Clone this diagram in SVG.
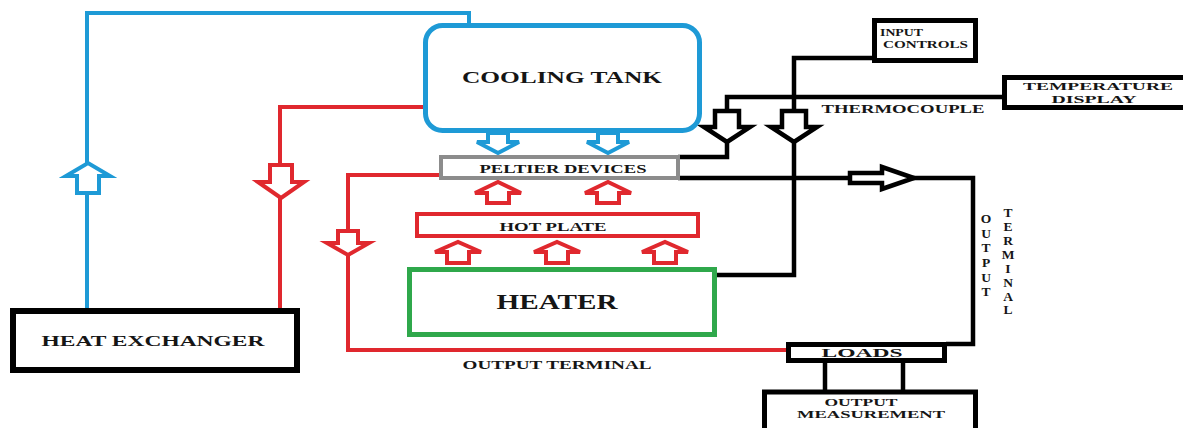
<svg xmlns="http://www.w3.org/2000/svg" width="1183" height="428" viewBox="0 0 1183 428">
<style>
.t{font-family:"Liberation Serif","DejaVu Serif","Times New Roman",serif;font-weight:bold;fill:#151515;text-anchor:middle}
.blk{fill:none;stroke:#000;stroke-width:4.5}
.blu{fill:none;stroke:#1E9AD6;stroke-width:4}
.red{fill:none;stroke:#E0282E;stroke-width:4}
.ab{fill:#fff;stroke:#000;stroke-width:4.5;stroke-linejoin:miter}
.abl{fill:#fff;stroke:#1E9AD6;stroke-width:4;stroke-linejoin:miter}
.ar{fill:#fff;stroke:#E0282E;stroke-width:4;stroke-linejoin:miter}
</style>
<rect width="1183" height="428" fill="#fff"/>
<g id="connectors">
  <polyline class="blu" points="87,308 87,13 469,13 469,25"/>
  <polyline class="red" points="280,308 280,107 425,107"/>
  <polyline class="red" points="441,175 348,175 348,350 788,350"/>
  <polyline class="blk" points="678,157 727,157 727,142"/>
  <polyline class="blk" points="727,111 727,97 1004,97"/>
  <polyline class="blk" points="874,58 794,58 794,111"/>
  <polyline class="blk" points="794,142 794,275 716,275"/>
  <polyline class="blk" points="678,178 973,178 973,344 946,344"/>
  <line class="blk" x1="825" y1="362" x2="825" y2="392"/>
  <line class="blk" x1="903" y1="362" x2="903" y2="392"/>
  <polygon class="abl" points="77,193 99,193 99,176 110,176 88,163 66,176 77,176"/>
  <polygon class="ar" points="270,165 292,165 292,182 304,182 281,198 258,182 270,182"/>
  <polygon class="ar" points="338,231 358,231 358,243 369,243 348,255 327,243 338,243"/>
  <polygon class="abl" points="488,133 508,133 508,142 519,142 498,153 477,142 488,142"/>
  <polygon class="abl" points="598,133 618,133 618,142 629,142 608,153 587,142 598,142"/>
  <polygon class="ar" points="487,203 509,203 509,193 521,193 498,182 475,193 487,193"/>
  <polygon class="ar" points="597,203 619,203 619,193 631,193 608,182 585,193 597,193"/>
  <polygon class="ar" points="447,263 469,263 469,252 481,252 458,242 435,252 447,252"/>
  <polygon class="ar" points="546,263 568,263 568,252 580,252 557,242 534,252 546,252"/>
  <polygon class="ar" points="654,263 676,263 676,252 688,252 665,242 642,252 654,252"/>
  <polygon class="ab" points="715,111 739,111 739,127 750,127 727,142 704,127 715,127"/>
  <polygon class="ab" points="782,111 806,111 806,127 817,127 794,142 771,127 782,127"/>
  <polygon class="ab" points="850,173 882,173 882,167 914,178 882,189 882,183 850,183"/>
</g>
<g id="cooling-tank">
  <rect x="425.5" y="25.5" width="274" height="105" rx="17" fill="#fff" stroke="#1E9AD6" stroke-width="5"/>
  <text class="t" x="562" y="83" font-size="16" textLength="200" lengthAdjust="spacingAndGlyphs">COOLING TANK</text>
</g>
<g id="peltier-devices">
  <rect x="441" y="157" width="237" height="21" fill="#fff" stroke="#8C8C8C" stroke-width="4"/>
  <text class="t" x="563" y="173" font-size="12.5" textLength="167" lengthAdjust="spacingAndGlyphs">PELTIER DEVICES</text>
</g>
<g id="hot-plate">
  <rect x="417" y="214" width="281" height="22" fill="#fff" stroke="#E0282E" stroke-width="4"/>
  <text class="t" x="553" y="231" font-size="13" textLength="107" lengthAdjust="spacingAndGlyphs">HOT PLATE</text>
</g>
<g id="heater">
  <rect x="409.5" y="269.5" width="305" height="65" fill="#fff" stroke="#2FA84B" stroke-width="5"/>
  <text class="t" x="557" y="309" font-size="20" textLength="121" lengthAdjust="spacingAndGlyphs">HEATER</text>
</g>
<g id="heat-exchanger">
  <rect x="13" y="311" width="284" height="59" fill="#fff" stroke="#000" stroke-width="6"/>
  <text class="t" x="153" y="346" font-size="14" textLength="223" lengthAdjust="spacingAndGlyphs">HEAT EXCHANGER</text>
</g>
<g id="input-controls">
  <rect x="874.5" y="20.5" width="101" height="40" fill="#fff" stroke="#000" stroke-width="5"/>
  <text class="t" x="880" y="36" font-size="9.5" style="text-anchor:start" textLength="43" lengthAdjust="spacingAndGlyphs">INPUT</text>
  <text class="t" x="883" y="48" font-size="9.5" style="text-anchor:start" textLength="85" lengthAdjust="spacingAndGlyphs">CONTROLS</text>
</g>
<g id="temperature-display">
  <rect x="1004.5" y="77.5" width="190" height="30" fill="#fff" stroke="#000" stroke-width="5"/>
  <text class="t" x="1098" y="90" font-size="10.5" textLength="150" lengthAdjust="spacingAndGlyphs">TEMPERATURE</text>
  <text class="t" x="1094" y="103" font-size="10.5" textLength="85" lengthAdjust="spacingAndGlyphs">DISPLAY</text>
</g>
<g id="thermocouple-label">
  <text class="t" x="903" y="113" font-size="12.5" textLength="163" lengthAdjust="spacingAndGlyphs">THERMOCOUPLE</text>
</g>
<g id="loads">
  <rect x="788.5" y="344.5" width="156" height="16" fill="#fff" stroke="#000" stroke-width="5"/>
  <text class="t" x="862" y="357" font-size="11.5" textLength="81" lengthAdjust="spacingAndGlyphs">LOADS</text>
</g>
<g id="output-measurement">
  <rect x="764.5" y="392" width="211" height="50" fill="#fff" stroke="#000" stroke-width="5"/>
  <text class="t" x="861" y="406" font-size="11" textLength="73" lengthAdjust="spacingAndGlyphs">OUTPUT</text>
  <text class="t" x="871" y="418" font-size="11" textLength="148" lengthAdjust="spacingAndGlyphs">MEASUREMENT</text>
</g>
<g id="output-terminal-label">
  <text class="t" x="557" y="369" font-size="12" textLength="189" lengthAdjust="spacingAndGlyphs">OUTPUT TERMINAL</text>
</g>
<g id="output-terminal-vertical" font-size="13.5">
  <text class="t" x="986" y="223">O</text>
  <text class="t" x="986" y="238">U</text>
  <text class="t" x="986" y="252">T</text>
  <text class="t" x="986" y="267">P</text>
  <text class="t" x="986" y="282">U</text>
  <text class="t" x="986" y="296">T</text>
  <text class="t" x="1008" y="217">T</text>
  <text class="t" x="1008" y="231">E</text>
  <text class="t" x="1008" y="245">R</text>
  <text class="t" x="1008" y="259">M</text>
  <text class="t" x="1008" y="273">I</text>
  <text class="t" x="1008" y="287">N</text>
  <text class="t" x="1008" y="301">A</text>
  <text class="t" x="1008" y="314">L</text>
</g>
</svg>
